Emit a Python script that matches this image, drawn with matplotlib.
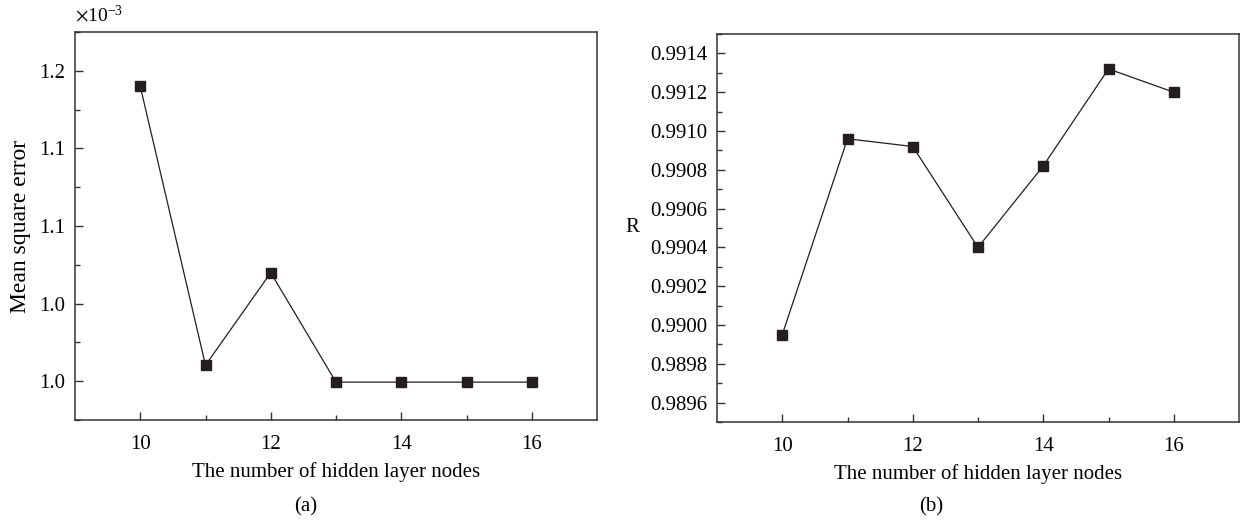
import matplotlib
matplotlib.use('Agg')
import matplotlib.pyplot as plt
from matplotlib.ticker import MultipleLocator, FixedLocator

plt.rcParams['font.family'] = ['Liberation Serif', 'DejaVu Serif']
plt.rcParams['mathtext.fontset'] = 'stix'

# data
nodes = [10, 11, 12, 13, 14, 15, 16]
mse = [1.190e-3, 1.0103e-3, 1.0699e-3, 0.9994e-3, 0.9994e-3, 0.9994e-3, 0.9994e-3]
r_vals = [0.98995, 0.99096, 0.99092, 0.99040, 0.99082, 0.99132, 0.99120]

mse_ticks = [1.00e-3, 1.05e-3, 1.10e-3, 1.15e-3, 1.20e-3]
mse_ticklabels = ['1.0', '1.0', '1.1', '1.1', '1.2']
r_ticks = [0.9896, 0.9898, 0.9900, 0.9902, 0.9904, 0.9906, 0.9908, 0.9910, 0.9912, 0.9914]
r_ticklabels = ['%.4f' % t for t in r_ticks]
x_ticks = [10, 12, 14, 16]

dark = '#231f20'
spine_col = '#333333'
fs = 15

fig = plt.figure(figsize=(12.4, 5.22), dpi=100)
ax1 = fig.add_axes([75 / 1240, 102 / 522, 522 / 1240, 388 / 522])
ax2 = fig.add_axes([717 / 1240, 100 / 522, 522 / 1240, 388 / 522])


def style(ax):
    for s in ax.spines.values():
        s.set_color(spine_col)
        s.set_linewidth(1.1)
    ax.tick_params(which='both', direction='in', top=False, right=False,
                   color=spine_col, labelsize=fs, width=1.0)
    ax.tick_params(which='major', length=6)
    ax.tick_params(which='minor', length=3.5)
    ax.tick_params(axis='x', pad=11)
    ax.tick_params(axis='y', pad=7)
    ax.set_xlim(9, 17)
    ax.set_xticks(x_ticks)
    ax.xaxis.set_minor_locator(FixedLocator([11, 13, 15]))
    ax.set_xlabel('The number of hidden layer nodes', fontsize=fs, va='center')
    ax.xaxis.set_label_coords(0.5, -0.135)


# (a) mean square error
ax1.plot(nodes, mse, color=dark, lw=0.9, marker='s', ms=6.5, mec=dark, mfc=dark)
style(ax1)
ax1.set_ylim(0.975e-3, 1.225e-3)
ax1.set_yticks(mse_ticks)
ax1.set_yticklabels(mse_ticklabels)
ax1.yaxis.set_minor_locator(MultipleLocator(0.025e-3))
ax1.set_ylabel('Mean square error', fontsize=17, va='center', ha='center')
ax1.yaxis.set_label_coords(-0.105, 0.5)
ax1.text(0, 1 + 17 / 388, r'$\times\mathregular{10^{-3}}$', transform=ax1.transAxes,
         fontsize=14, ha='left', va='center')

# (b) R
ax2.plot(nodes, r_vals, color=dark, lw=0.9, marker='s', ms=6.5, mec=dark, mfc=dark)
style(ax2)
ax2.set_ylim(0.98950, 0.99150)
ax2.set_yticks(r_ticks)
ax2.set_yticklabels(r_ticklabels)
ax2.yaxis.set_minor_locator(MultipleLocator(0.0001))
ax2.set_ylabel('R', fontsize=fs, rotation=0, va='center', ha='center')
ax2.yaxis.set_label_coords(-0.163, 0.5)

fig.text(306 / 1240, 15 / 522, '(a)', fontsize=fs, ha='center', va='center')
fig.text(931 / 1240, 15 / 522, '(b)', fontsize=fs, ha='center', va='center')

fig.savefig('out.png', dpi=100)
